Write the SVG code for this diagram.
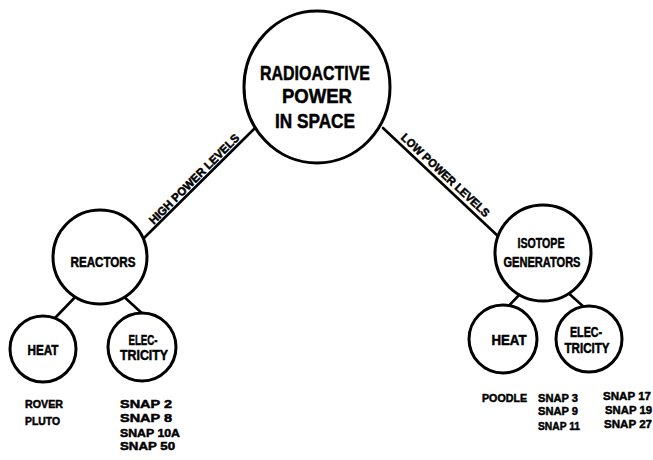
<svg xmlns="http://www.w3.org/2000/svg" width="653" height="460" viewBox="0 0 653 460">
<style>
.n{fill:#fff;stroke:#000;stroke-width:3}
.c{stroke:#000;stroke-width:2.6;fill:none;stroke-linecap:round}
text{font-family:"Liberation Sans","DejaVu Sans",sans-serif;font-weight:bold;fill:#000;stroke:#000;stroke-width:0.5}
.big{font-size:20px;text-anchor:middle}
.mid{font-size:14px;text-anchor:middle}
.sm{font-size:11.5px}
.lbl{font-size:11.5px;text-anchor:middle}
</style>
<rect width="653" height="460" fill="#fff" stroke="none"/>
<g id="connectors">
<line class="c" x1="255" y1="128" x2="140" y2="242"/>
<line class="c" x1="383" y1="128" x2="500" y2="238"/>
<line class="c" x1="80" y1="292" x2="55" y2="318"/>
<line class="c" x1="122" y1="295" x2="145" y2="316"/>
<line class="c" x1="522" y1="292" x2="503" y2="312"/>
<line class="c" x1="565" y1="290" x2="585" y2="308"/>
<text class="lbl" transform="translate(199,184) rotate(-45)" y="-3" textLength="122" lengthAdjust="spacingAndGlyphs">HIGH POWER LEVELS</text>
<text class="lbl" transform="translate(440,181) rotate(43)" y="-4" textLength="116" lengthAdjust="spacingAndGlyphs">LOW POWER LEVELS</text>
</g>
<g id="radioactive-power">
<ellipse class="n" cx="317" cy="87" rx="73" ry="76"/>
<text class="big" x="315" y="80" textLength="110" lengthAdjust="spacingAndGlyphs">RADIOACTIVE</text>
<text class="big" x="317" y="103" textLength="70" lengthAdjust="spacingAndGlyphs">POWER</text>
<text class="big" x="315" y="128" textLength="80" lengthAdjust="spacingAndGlyphs">IN SPACE</text>
</g>
<g id="reactors">
<circle class="n" cx="100" cy="257" r="47"/>
<text class="mid" x="103" y="267" textLength="65" lengthAdjust="spacingAndGlyphs">REACTORS</text>
</g>
<g id="reactor-heat">
<circle class="n" cx="43" cy="349" r="33"/>
<text class="mid" x="43" y="355" textLength="31" lengthAdjust="spacingAndGlyphs">HEAT</text>
</g>
<g id="reactor-electricity">
<circle class="n" cx="142" cy="347" r="34"/>
<text class="mid" x="143" y="345" textLength="29" lengthAdjust="spacingAndGlyphs">ELEC-</text>
<text class="mid" x="144" y="360" textLength="48" lengthAdjust="spacingAndGlyphs">TRICITY</text>
</g>
<g id="isotope-generators">
<circle class="n" cx="543" cy="253" r="48"/>
<text class="mid" x="541" y="248" textLength="47" lengthAdjust="spacingAndGlyphs">ISOTOPE</text>
<text class="mid" x="542" y="267" textLength="77" lengthAdjust="spacingAndGlyphs">GENERATORS</text>
</g>
<g id="isotope-heat">
<circle class="n" cx="503" cy="339" r="34"/>
<text class="mid" x="509" y="345" textLength="35" lengthAdjust="spacingAndGlyphs">HEAT</text>
</g>
<g id="isotope-electricity">
<circle class="n" cx="589" cy="339" r="33"/>
<text class="mid" x="586" y="337" textLength="32" lengthAdjust="spacingAndGlyphs">ELEC-</text>
<text class="mid" x="587" y="353" textLength="45" lengthAdjust="spacingAndGlyphs">TRICITY</text>
</g>
<g id="reactor-heat-list">
<text class="sm" x="25" y="408" textLength="38" lengthAdjust="spacingAndGlyphs">ROVER</text>
<text class="sm" x="25" y="425" textLength="35" lengthAdjust="spacingAndGlyphs">PLUTO</text>
</g>
<g id="reactor-electricity-list">
<text class="sm" x="120" y="408" textLength="52" lengthAdjust="spacingAndGlyphs">SNAP 2</text>
<text class="sm" x="120" y="422" textLength="52" lengthAdjust="spacingAndGlyphs">SNAP 8</text>
<text class="sm" x="120" y="437" textLength="60" lengthAdjust="spacingAndGlyphs">SNAP 10A</text>
<text class="sm" x="120" y="450" textLength="55" lengthAdjust="spacingAndGlyphs">SNAP 50</text>
</g>
<g id="isotope-heat-list">
<text class="sm" x="482" y="402" textLength="45" lengthAdjust="spacingAndGlyphs">POODLE</text>
</g>
<g id="isotope-electricity-list">
<text class="sm" x="538" y="402" textLength="40" lengthAdjust="spacingAndGlyphs">SNAP 3</text>
<text class="sm" x="538" y="415" textLength="40" lengthAdjust="spacingAndGlyphs">SNAP 9</text>
<text class="sm" x="538" y="430" textLength="42" lengthAdjust="spacingAndGlyphs">SNAP 11</text>
<text class="sm" x="603" y="400" textLength="48" lengthAdjust="spacingAndGlyphs">SNAP 17</text>
<text class="sm" x="605" y="414" textLength="47" lengthAdjust="spacingAndGlyphs">SNAP 19</text>
<text class="sm" x="604" y="428" textLength="48" lengthAdjust="spacingAndGlyphs">SNAP 27</text>
</g>
</svg>
